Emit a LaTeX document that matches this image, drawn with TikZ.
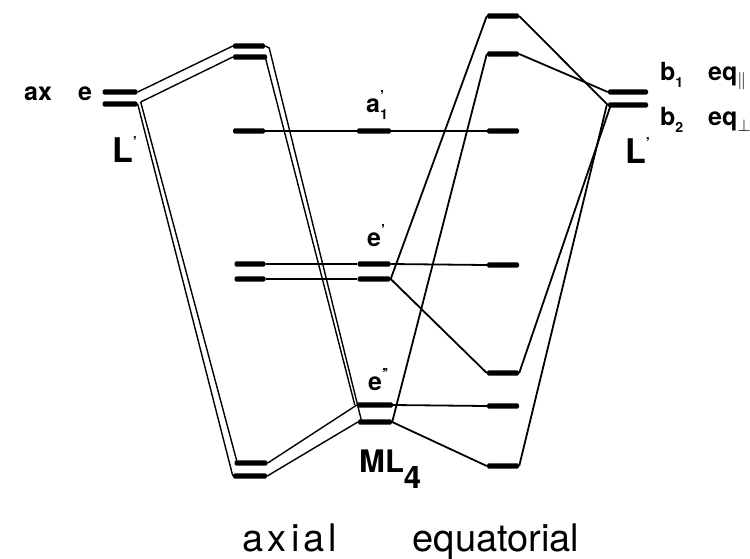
\documentclass[tikz,border=0pt]{standalone}
\usepackage{fontspec}
\setmainfont{TeX Gyre Heros}
\usetikzlibrary{calc}
\newcommand\prm{\raisebox{0.42em}{\fontsize{15}{15}\selectfont\bfseries '}}
\newcommand\sbs[1]{\raisebox{-0.28em}{\fontsize{14}{14}\selectfont\bfseries #1}}
\begin{document}
\begin{tikzpicture}[x=1pt,y=-1pt,
  lvl/.style={fill=black, inner sep=0pt, minimum height=5.2pt, minimum width=#1, rounded corners=1.4pt},
  lvl/.default=32pt,
  conn/.style={line width=1.8pt},
  strand/.style={line width=1.4pt},
  lab/.style={font=\fontsize{25}{25}\selectfont\bfseries, inner sep=0pt, anchor=base west},
  bigL/.style={font=\fontsize{34}{34}\selectfont\bfseries, inner sep=0pt, anchor=base west},
  big/.style={font=\fontsize{38}{38}\selectfont, inner sep=0pt, anchor=base}]
\path[use as bounding box] (0,0) rectangle (750,558);
% levels
\node[lvl=35pt] (L1) at (120,92) {};
\node[lvl=35pt] (L2) at (120,104) {};
\node[lvl] (A1) at (249,46) {};
\node[lvl=34pt] (A2) at (250,57) {};
\node[lvl] (A3) at (249,131) {};
\node[lvl=31pt] (A4) at (250,264) {};
\node[lvl=31pt] (A5) at (250,279) {};
\node[lvl=33pt] (A6) at (251,463) {};
\node[lvl=34pt] (A7) at (250,476) {};
\node[lvl=34pt] (M1) at (374,131) {};
\node[lvl=33pt] (M2) at (374,264) {};
\node[lvl=33pt] (M3) at (374,279) {};
\node[lvl=36pt] (M4) at (375,405) {};
\node[lvl=34pt] (M5) at (375,422) {};
\node[lvl] (E1) at (503,16) {};
\node[lvl] (E2) at (503,54) {};
\node[lvl] (E3) at (503,131) {};
\node[lvl] (E4) at (503,265) {};
\node[lvl] (E5) at (503,373) {};
\node[lvl] (E6) at (503,406) {};
\node[lvl] (E7) at (503,466) {};
\node[lvl=40pt] (R1) at (628,92) {};
\node[lvl=40pt] (R2) at (628,105) {};
% single connectors
\draw[conn] (A3.east) -- (M1.west) (M1.east) -- (E3.west);
\draw[conn] (A4.east) -- (M2.west) (A5.east) -- (M3.west);
\draw[conn] (M2.east) -- (E4.west);
\draw[conn] (M3.east) -- (E5.west);
\draw[conn] (M3.east) -- (E1.west);
\draw[conn] (M4.east) -- (E6.west);
\draw[conn] (M5.east) -- (E7.west);
\draw[conn] (M5.east) -- (E2.west);
\draw[conn] (E1.east) -- (R2.west);
\draw[conn] (E2.east) -- (R1.west);
\draw[conn] ($(R2.west)+(3,0)$) -- (E5.east);
\draw[conn] ($(R2.west)+(-1,0)$) -- (E7.east);
% double connectors (degenerate e levels)
\coordinate (Lj) at ($(L2.east)+(3,-2)$);
\draw[strand] (L1.east) -- (A1.west);
\draw[strand] (Lj) -- (A2.west);
\draw[strand] (L2.east) -- (A7.west);
\draw[strand] (Lj) -- ($(A6.west)+(3,0)$);
\draw[strand] ($(A2.east)+(-2,0)$) -- ($(M4.west)+(-2,0)$);
\draw[strand] (A1.east) -- ++(4,2) -- ($(M5.west)+(4,0)$);
\draw[strand] (A6.east) -- (M4.west);
\draw[strand] (A7.east) -- (M5.west);
% labels
\node[lab] (tax) at (24,100) {ax};
\node[lab] (te) at (78,100) {e};
\node[bigL] (tL1) at (112,162) {L\prm};
\node[bigL] (tL2) at (625,163) {L\prm};
\node[lab] (ta1) at (366,112) {a\rlap{\prm}\sbs{1}};
\node[lab] (tep) at (367,246) {e\prm};
\node[lab] (tepp) at (368,390) {e\prm\kern-2pt\prm};
\node[font=\fontsize{31}{31}\selectfont\bfseries, inner sep=0pt, anchor=base west] (tml) at (359,472) {ML\raisebox{-16pt}{4}};
\node[lab] (tb1) at (660,80) {b\sbs{1}};
\node[lab] (tb2) at (660,125) {b\sbs{2}};
\node[lab] (tq1) at (708,80) {eq\raisebox{-5pt}{$\scriptstyle\|$}};
\node[lab] (tq2) at (708,125) {eq\raisebox{-6pt}{$\scriptstyle\perp$}};
\node[big] (tax2) at (290,551) {\addfontfeature{LetterSpace=11}axial};
\node[big] (teq) at (496,551) {equatorial};
\end{tikzpicture}
\end{document}
